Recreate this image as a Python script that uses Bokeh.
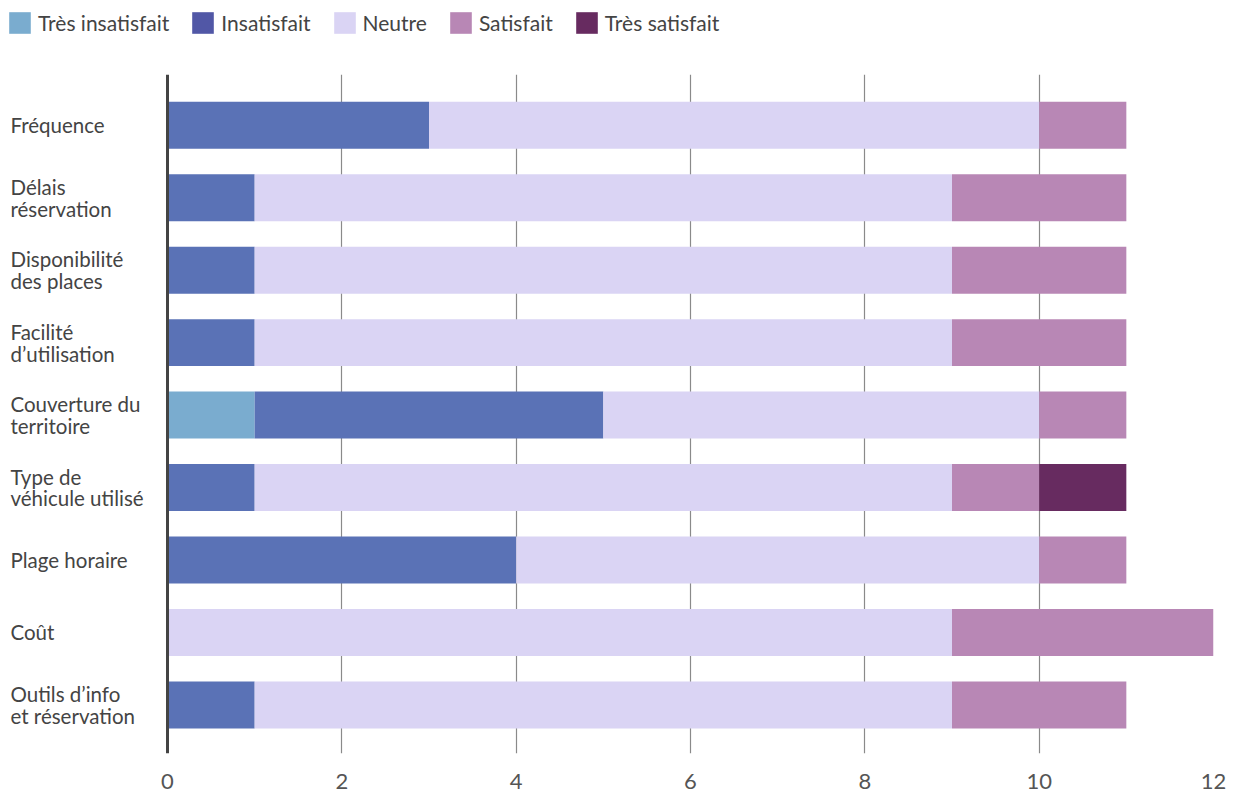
from bokeh.plotting import figure
from bokeh.layouts import column
from bokeh.models import (ColumnDataSource, Range1d, FixedTicker, Legend, LegendItem, Span)
from bokeh.core.properties import value
from bokeh.embed import file_html
from bokeh.resources import INLINE

# Survey criteria, top to bottom
criteria = [
    "Fréquence",
    "Délais\nréservation",
    "Disponibilité\ndes places",
    "Facilité\nd\u2019utilisation",
    "Couverture du\nterritoire",
    "Type de\nvéhicule utilisé",
    "Plage horaire",
    "Coût",
    "Outils d\u2019info\net réservation",
]

# Number of answers per satisfaction level
tres_insatisfait = [0, 0, 0, 0, 1, 0, 0, 0, 0]
insatisfait      = [3, 1, 1, 1, 4, 1, 4, 0, 1]
neutre           = [7, 8, 8, 8, 5, 8, 6, 9, 8]
satisfait        = [1, 2, 2, 2, 1, 1, 1, 3, 2]
tres_satisfait   = [0, 0, 0, 0, 0, 1, 0, 0, 0]

levels = ["Très insatisfait", "Insatisfait", "Neutre", "Satisfait", "Très satisfait"]
bar_colors = ["#7aaccf", "#5a72b6", "#dad4f4", "#b887b5", "#672b60"]
legend_colors = ["#7aaccf", "#5157a6", "#dad4f4", "#b887b5", "#672b60"]
x_ticks = [0, 2, 4, 6, 8, 10, 12]

FONT = "Lato"
TEXT = "#444444"

W = 1234
LEGEND_H = 74
MAIN_H = 793 - LEGEND_H
LABEL_W = 167          # room kept for the category names
RIGHT_W = 21
X_MAX = 12
px_per_unit = (W - LABEL_W - RIGHT_W) / X_MAX
x_start = -LABEL_W / px_per_unit

source = ColumnDataSource(dict(
    y=list(range(len(criteria))),
    label=criteria,
    lx=[x_start] * len(criteria),
    s0=tres_insatisfait,
    s1=insatisfait,
    s2=neutre,
    s3=satisfait,
    s4=tres_satisfait,
))

# ---- legend strip -------------------------------------------------------
leg = figure(width=W, height=LEGEND_H, x_range=Range1d(0, 1), y_range=Range1d(0, 1),
             output_backend="svg", toolbar_location=None,
             min_border=0, outline_line_color=None)
leg.axis.visible = False
leg.grid.visible = False
items = []
for name, col in zip(levels, legend_colors):
    r = leg.rect(x=[float("nan")], y=[float("nan")], width=1, height=1,
                 fill_color=col, line_color=None)
    items.append(LegendItem(label=name, renderers=[r]))
legend = Legend(items=items, orientation="horizontal",
                glyph_width=27, glyph_height=27, label_standoff=5, spacing=20,
                label_text_font=FONT, label_text_font_size="21px",
                label_text_color=TEXT, border_line_color=None,
                background_fill_alpha=0, padding=0, margin=0,
                location=(6, LEGEND_H - 36))
leg.add_layout(legend)

# ---- main chart ---------------------------------------------------------
p = figure(
    width=W, height=MAIN_H,
    x_range=Range1d(x_start, X_MAX),
    y_range=Range1d(8.67, -0.70),
    output_backend="svg", toolbar_location=None,
    min_border_left=0, min_border_right=RIGHT_W,
    min_border_top=0, min_border_bottom=40,
)
p.outline_line_color = None

p.hbar_stack(["s0", "s1", "s2", "s3", "s4"], y="y", height=0.648,
             color=bar_colors, line_color=None, source=source)

# Category names, left aligned
p.text(x="lx", y="y", text="label", source=source, x_offset=10,
       text_align="left", text_baseline="middle",
       text_font=value(FONT), text_font_size="20.5px", text_color=TEXT,
       text_line_height=0.91)

# Zero line
p.add_layout(Span(location=0, dimension="height", line_color="#444444", line_width=3))

p.xaxis.ticker = FixedTicker(ticks=x_ticks)
p.xaxis.axis_line_color = None
p.xaxis.major_tick_line_color = None
p.xaxis.minor_tick_line_color = None
p.xaxis.major_label_text_font = FONT
p.xaxis.major_label_text_font_size = "22px"
p.xaxis.major_label_text_color = "#555555"
p.xaxis.major_label_standoff = 14
p.yaxis.visible = False

p.xgrid.ticker = FixedTicker(ticks=[t for t in x_ticks if t > 0])
p.xgrid.grid_line_color = "#8a8a8a"
p.xgrid.grid_line_width = 1.2
p.ygrid.grid_line_color = None

layout = column(leg, p, spacing=0)
open("out.html", "w").write(file_html(layout, INLINE))
